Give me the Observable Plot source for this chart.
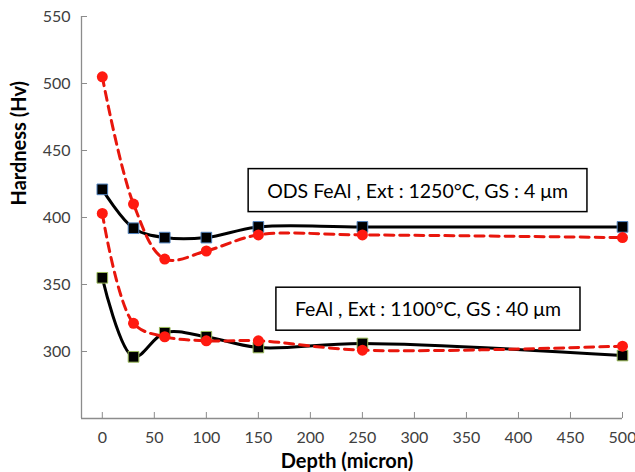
<!DOCTYPE html>
<html>
<head>
<meta charset="utf-8">
<script src="https://cdn.jsdelivr.net/npm/d3@7"></script>
<script src="https://cdn.jsdelivr.net/npm/@observablehq/plot@0.6"></script>
<style>
  body { margin: 0; background: #fff; }
  svg { font-family: Lato, "Open Sans", sans-serif; }
  g.axtitle text { font-weight: bold; font-size: 20px; fill: #000; }
  g.anno text { font-size: 19.5px; fill: #000; }
</style>
</head>
<body>
<script>
// Data
const depth = [0, 30, 60, 100, 150, 250, 500];
const odsSquares  = [421, 392, 385, 385, 393, 393, 393];
const odsCircles  = [505, 410, 369, 375, 387, 387, 385];
const fealSquares = [355, 296, 314, 311, 303, 306, 297];
const fealCircles = [403, 321, 311, 308, 308, 301, 304];

const xTicks = [0, 50, 100, 150, 200, 250, 300, 350, 400, 450, 500];
const yTicks = [250, 300, 350, 400, 450, 500, 550];
const yTickLabels = ["", "300", "350", "400", "450", "500", "550"];
const xDomain = [-20, 500];
const yDomain = [250, 550];
const xTitle = ["Depth (micron)"];
const yTitle = ["Hardness (Hv)"];

const annotations = [
  {label: "ODS FeAl , Ext : 1250°C, GS : 4 \u03bcm", x: 303, y: 419.5},
  {label: "FeAl , Ext : 1100°C, GS : 40 \u03bcm", x: 313, y: 331}
];

const toRows = (vals, series) => depth.map((d, i) => ({depth: d, hv: vals[i], series}));
const odsSq = toRows(odsSquares, "ods");
const odsCi = toRows(odsCircles, "ods");
const fealSq = toRows(fealSquares, "feal");
const fealCi = toRows(fealCircles, "feal");

const chart = Plot.plot({
  width: 635,
  height: 472,
  marginLeft: 81,
  marginRight: 13,
  marginTop: 16,
  marginBottom: 54,
  style: {fontSize: "16px", color: "#404040", background: "#fff"},
  x: {domain: xDomain},
  y: {domain: yDomain},
  marks: [
    Plot.ruleY([yDomain[0]], {stroke: "#8c8c8c", strokeWidth: 1.3}),
    Plot.ruleX([xDomain[0]], {stroke: "#8c8c8c", strokeWidth: 1.3}),
    Plot.axisX({ticks: xTicks, tickSize: -6, tickPadding: 19, stroke: "#8c8c8c", label: null}),
    Plot.axisY({ticks: yTicks, tickSize: -6, tickPadding: 17, stroke: "#8c8c8c", tickFormat: (d) => yTickLabels[yTicks.indexOf(d)], label: null}),
    Plot.text(xTitle, {frameAnchor: "bottom", dy: 43, dx: -5, text: (d) => d, className: "axtitle", lineAnchor: "middle"}),
    Plot.text(yTitle, {frameAnchor: "left", dx: -61.5, dy: -12, rotate: -90, text: (d) => d, className: "axtitle", lineAnchor: "middle"}),
    Plot.line(odsSq, {x: "depth", y: "hv", stroke: "#000", strokeWidth: 3, curve: "catmull-rom"}),
    Plot.line(fealSq, {x: "depth", y: "hv", stroke: "#000", strokeWidth: 3, curve: "catmull-rom"}),
    Plot.dot(odsSq, {x: "depth", y: "hv", symbol: "square", r: 6, fill: "#000", stroke: "#4f81bd", strokeWidth: 1}),
    Plot.dot(fealSq, {x: "depth", y: "hv", symbol: "square", r: 6, fill: "#000", stroke: "#9bbb59", strokeWidth: 1}),
    Plot.line(odsCi, {x: "depth", y: "hv", stroke: "#e8160c", strokeWidth: 3, strokeDasharray: "9,6", curve: "catmull-rom"}),
    Plot.line(fealCi, {x: "depth", y: "hv", stroke: "#e8160c", strokeWidth: 3, strokeDasharray: "9,6", curve: "catmull-rom"}),
    Plot.dot(odsCi, {x: "depth", y: "hv", r: 5.5, fill: "#ff1a10", stroke: "none"}),
    Plot.dot(fealCi, {x: "depth", y: "hv", r: 5.5, fill: "#ff1a10", stroke: "none"}),
    Plot.text(annotations, {x: "x", y: "y", text: "label", className: "anno", fontSize: 19.5, fill: "#000"})
  ]
});
document.body.append(chart);

// draw a frame round each annotation text
document.querySelectorAll("g.anno text").forEach((t) => {
  const b = t.getBBox();
  const padX = 19, padY = 10;
  const rect = document.createElementNS("http://www.w3.org/2000/svg", "rect");
  rect.setAttribute("x", b.x - padX);
  rect.setAttribute("y", b.y - padY);
  rect.setAttribute("width", b.width + 2 * padX);
  rect.setAttribute("height", b.height + 2 * padY);
  rect.setAttribute("fill", "#fff");
  rect.setAttribute("stroke", "#000");
  rect.setAttribute("stroke-width", "1.5");
  const tr = t.getAttribute("transform");
  if (tr) rect.setAttribute("transform", tr);
  t.parentNode.insertBefore(rect, t);
});
</script>
</body>
</html>
